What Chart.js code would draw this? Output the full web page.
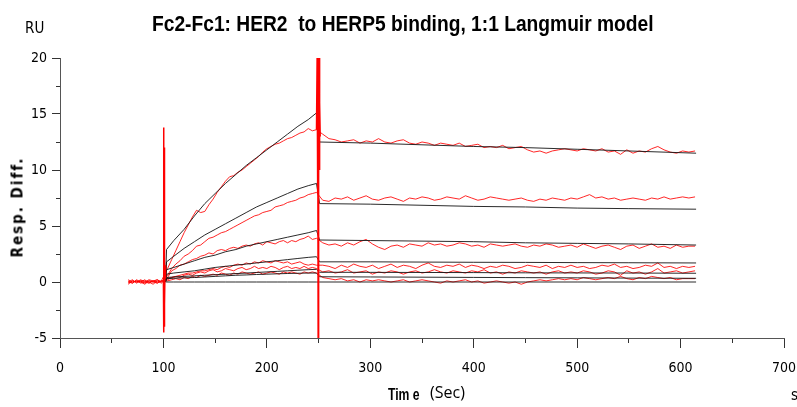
<!DOCTYPE html>
<html>
<head>
<meta charset="utf-8">
<script src="https://cdn.jsdelivr.net/npm/chart.js@4"></script>
<style>
  body { margin: 0; background: #fff; }
  #wrap { position: relative; width: 797px; height: 407px; overflow: hidden; }
  .lbl { position: absolute; white-space: pre; line-height: 1; color: #000; transform-origin: 0 0; }
  .narrow { font-family: "DejaVu Sans Condensed", "Liberation Sans Narrow", sans-serif; }
  .arial { font-family: "Liberation Sans", Arial, sans-serif; }
</style>
</head>
<body>
<div id="wrap">
  <canvas id="chart" width="797" height="407"></canvas>
  <div id="title" class="lbl arial" data-w="502" style="left:152px; top:13px; font-size:22px; font-weight:bold;">Fc2-Fc1: HER2  to HERP5 binding, 1:1 Langmuir model</div>
  <div class="lbl narrow" style="left:25px; top:21px; font-size:15px;">RU</div>
  <div class="lbl narrow" style="left:18px; top:207px; font-size:15px; font-weight:bold; letter-spacing:2px; transform:translate(-50%,-50%) rotate(-90deg); transform-origin:50% 50%;">Resp. Diff.</div>
  <div id="tlab" class="lbl arial" data-w="32" style="left:388px; top:387px; font-size:16px; font-weight:bold;">Tim e</div>
  <div class="lbl" style="left:430px; top:384px; font-size:16px; font-family:'Open Sans',sans-serif;">(Sec)</div>
  <div class="lbl narrow" style="left:791px; top:388px; font-size:15px;">s</div>
</div>
<script>
// sensorgram time points (s) for the measured curves
const tRed = [66,70,74,78,82,86,90,94,98,
  104,108,112,116,120,124,128,132,136,140,
  144,148,152,156,160,164,168,172,176,180,
  184,188,192,196,200,204,208,212,216,220,
  224,228,232,236,240,244,248,
  254,260,266,272,278,284,290,296,302,308,
  314,320,326,332,338,344,350,356,362,368,
  374,380,386,392,398,404,410,416,422,428,
  434,440,446,452,458,464,470,476,482,488,
  494,500,506,512,518,524,530,536,542,548,
  554,560,566,572,578,584,590,596,602,608,
  614];

// measured response (RU), one array per concentration
const red1 = [0.1,-0.1,0.2,0.0,-0.2,0.1,0.0,-0.1,0.1,
  1.2,2.0,2.8,3.6,4.4,5.1,5.8,6.4,6.2,6.3,
  6.9,7.4,8.0,8.5,9.0,9.4,9.5,9.8,10.0,10.3,
  10.6,10.9,11.2,11.6,11.9,12.1,12.3,12.4,12.6,12.8,
  12.9,13.1,13.3,13.4,13.7,13.5,13.6,
  13.2,12.8,12.7,12.5,12.6,12.7,12.4,12.6,12.5,12.8,
  12.5,12.4,12.6,12.7,12.4,12.3,12.5,12.4,12.2,12.4,
  12.3,12.2,12.4,12.1,12.2,12.3,12.0,12.1,12.0,12.2,
  11.9,12.0,12.1,11.8,11.6,11.7,11.5,11.7,11.8,11.9,
  11.8,11.7,11.9,11.8,11.7,11.9,11.6,11.7,11.4,11.8,
  11.5,11.7,11.6,11.9,12.1,11.8,11.6,11.5,11.7,11.6,
  11.7];
const red2 = [-0.1,0.1,0.0,0.2,0.0,-0.1,0.1,0.2,0.0,
  0.6,1.2,1.6,1.9,2.3,2.5,2.8,3.2,3.3,3.6,
  3.9,4.0,4.2,4.4,4.5,4.7,4.9,5.1,5.3,5.5,
  5.7,5.9,6.0,6.2,6.3,6.4,6.7,6.8,6.9,7.1,
  7.2,7.3,7.5,7.6,7.8,7.9,8.0,
  7.3,7.2,7.5,7.4,7.6,7.3,7.5,7.7,7.4,7.3,
  7.5,7.6,7.4,7.2,7.5,7.4,7.6,7.5,7.3,7.4,
  7.6,7.5,7.4,7.7,7.5,7.3,7.4,7.6,7.5,7.4,
  7.3,7.4,7.5,7.3,7.2,7.4,7.3,7.5,7.4,7.3,
  7.5,7.4,7.6,7.8,7.5,7.6,7.4,7.5,7.3,7.4,
  7.5,7.4,7.3,7.5,7.4,7.6,7.4,7.5,7.6,7.5,
  7.6];
const red3 = [0.0,0.2,-0.1,0.1,0.1,0.0,-0.2,0.1,-0.1,
  0.4,1.0,1.2,1.5,1.6,1.8,2.0,2.1,2.3,2.4,
  2.6,2.5,2.8,2.9,2.8,3.0,3.1,3.0,3.2,3.3,
  3.2,3.4,3.5,3.3,3.6,3.5,3.4,3.6,3.7,3.5,
  3.7,3.6,3.8,3.9,4.1,3.8,3.9,
  3.5,3.3,3.4,3.2,3.5,3.3,3.6,3.8,3.4,3.1,
  2.9,3.2,3.3,3.1,3.4,3.3,3.2,3.5,3.3,3.4,
  3.2,3.3,3.5,3.4,3.2,3.3,3.1,3.4,3.3,3.2,
  3.3,3.4,3.2,3.1,3.3,3.2,3.4,3.3,3.1,3.2,
  3.3,3.1,3.4,3.2,3.0,3.2,3.3,3.1,2.9,3.2,
  3.3,3.0,3.2,3.4,3.1,3.2,3.0,3.3,3.1,3.2,
  3.2];
const red4 = [0.2,0.0,0.1,-0.1,0.0,0.2,0.1,-0.1,0.1,
  0.2,0.4,0.5,0.6,0.7,0.8,0.8,0.9,1.0,1.0,
  1.1,1.2,1.1,1.3,1.4,1.3,1.5,1.6,1.5,1.7,
  1.6,1.8,1.7,1.9,1.8,1.7,1.9,1.8,1.7,1.8,
  1.6,1.7,1.8,1.6,1.5,1.6,1.5,
  1.5,1.4,1.2,1.5,1.3,1.6,1.4,1.3,1.5,1.2,
  1.4,1.6,1.3,1.5,1.4,1.2,1.5,1.7,1.4,1.3,
  1.5,1.4,1.6,1.3,1.5,1.4,1.2,1.4,1.3,1.5,
  1.4,1.2,1.3,1.5,1.4,1.3,1.5,1.2,1.4,1.3,
  1.5,1.3,1.4,1.2,1.3,1.5,1.4,1.6,1.3,1.4,
  1.2,1.3,1.5,1.4,1.7,1.3,1.4,1.2,1.4,1.3,
  1.4];
const red5 = [-0.2,0.1,0.0,0.1,-0.1,0.1,0.0,0.2,0.0,
  0.3,0.4,0.5,0.4,0.6,0.7,0.6,0.8,0.9,0.8,
  1.0,1.1,0.9,1.0,1.2,1.1,1.0,1.2,1.3,1.1,
  1.2,1.4,1.2,1.3,1.2,1.4,1.3,1.1,1.3,1.4,
  1.2,1.3,1.2,1.4,1.2,1.3,1.2,
  0.9,1.0,0.8,0.9,1.1,0.8,0.9,1.0,0.7,0.9,
  0.8,1.0,0.9,0.7,0.9,1.0,0.8,0.9,1.1,0.9,
  0.8,1.0,0.9,0.8,1.0,0.9,1.1,0.8,0.9,0.7,
  0.9,0.8,1.0,0.9,0.8,0.9,0.7,0.9,1.0,0.8,
  0.9,0.8,1.0,0.9,0.7,0.8,1.0,0.9,0.6,1.0,
  0.8,0.9,0.7,0.9,1.2,0.8,0.9,1.0,0.8,0.9,
  1.0];
const red6 = [0.0,-0.1,0.1,0.0,0.2,-0.1,0.1,0.0,0.1,
  0.1,0.2,0.3,0.2,0.4,0.3,0.5,0.4,0.6,0.5,
  0.6,0.7,0.6,0.8,0.7,0.6,0.8,0.7,0.9,0.8,
  0.7,0.8,0.9,0.7,0.8,0.9,0.8,0.7,0.9,0.8,
  0.9,0.8,0.7,0.9,0.8,0.9,0.8,
  0.4,0.3,0.2,0.3,0.1,0.2,0.0,0.2,0.1,0.2,
  0.1,0.0,0.1,0.2,0.0,0.1,0.2,0.1,0.0,-0.1,
  0.1,0.0,0.1,0.2,0.0,0.1,-0.1,0.0,0.1,0.0,
  -0.1,0.0,-0.2,0.0,0.1,0.2,0.1,0.2,0.3,0.2,
  0.3,0.2,0.4,0.3,0.2,0.3,0.4,0.3,0.5,0.3,
  0.2,0.4,0.3,0.5,0.4,0.3,0.4,0.2,0.3,0.3,
  0.3];

// injection artefacts
const spike1T = [100, 100.2, 100.4, 100.6, 100.8, 101.0, 101.3, 101.6, 102];
const spike1 = [0, 13.8, -4.5, 12.0, -4.0, 6.0, -2.0, 1.5, 0.3];
const spike2T = [248, 248.6, 249.0, 249.3, 249.6, 249.9, 250.2, 250.5, 250.8, 251.2, 251.6];
const spike2 = [13.6, 20, 8, 20, -5, 20, 9, 20, 10, 16, 13.0];

// 1:1 Langmuir fit curves
const tFit = [102,103,110,120,130,140,150,160,170,180,190,200,210,220,230,240,248,
  251,300,350,400,450,500,550,615];
const fit1 = [0,2.9,3.7,4.7,5.9,7.0,7.9,8.8,9.6,10.4,11.1,11.8,12.5,13.2,13.9,14.5,15.1,
  12.5,12.4,12.25,12.1,12.0,11.85,11.7,11.5];
const fit2 = [0,1.8,2.3,3.0,3.6,4.2,4.7,5.2,5.7,6.2,6.7,7.1,7.5,7.9,8.3,8.6,8.8,
  7.0,6.95,6.85,6.75,6.7,6.6,6.55,6.5];
const fit3 = [0,1.1,1.3,1.6,1.9,2.2,2.4,2.7,2.9,3.2,3.4,3.6,3.8,4.0,4.2,4.4,4.6,
  3.75,3.7,3.65,3.6,3.5,3.45,3.4,3.3];
const fit4 = [0,0.7,0.8,0.9,1.0,1.15,1.3,1.4,1.5,1.6,1.7,1.8,1.9,2.0,2.1,2.2,2.26,
  1.8,1.8,1.78,1.76,1.75,1.73,1.72,1.7];
const fit5 = [0,0.4,0.45,0.5,0.55,0.6,0.65,0.7,0.75,0.8,0.85,0.9,0.95,1.0,1.05,1.1,1.13,
  0.87,0.86,0.85,0.84,0.82,0.81,0.8,0.78];
const fit6 = [0,0.3,0.33,0.37,0.4,0.45,0.5,0.55,0.6,0.63,0.67,0.7,0.73,0.76,0.78,0.8,0.8,
  0.47,0.45,0.43,0.41,0.39,0.37,0.35,0.33];
const fit7 = [0,0,0,0,0,0,0,0,0,0,0,0,0,0,0,0,0,
  0,0,0,0,0,0,0,0];

const xTicks = [0, 100, 200, 300, 400, 500, 600, 700];
const yTicks = [-5, 0, 5, 10, 15, 20];

// squeeze the bold labels horizontally to the width they have in the picture
document.querySelectorAll('[data-w]').forEach(el => {
  el.style.transform = 'scaleX(' + (el.dataset.w / el.offsetWidth) + ')';
});

function pts(xs, ys) {
  return xs.map((x, i) => ({ x: x, y: ys[i] }));
}

const redSeries = [red1, red2, red3, red4, red5, red6];
const fitSeries = [fit1, fit2, fit3, fit4, fit5, fit6, fit7];

const datasets = [];
datasets.push({ data: pts(spike1T, spike1), borderColor: '#ff0000', borderWidth: 1.5, order: 0 });
datasets.push({ data: pts(spike2T, spike2), borderColor: '#ff0000', borderWidth: 1.5, order: 0 });
fitSeries.forEach(f => {
  datasets.push({ data: pts(tFit, f), borderColor: 'rgba(20,20,20,0.9)', borderWidth: 1, order: 1 });
});
redSeries.forEach(r => {
  datasets.push({ data: pts(tRed, r), borderColor: 'rgba(255,0,0,0.85)', borderWidth: 1, order: 2 });
});

const tickFont = { family: '"DejaVu Sans Condensed", "Liberation Sans Narrow", sans-serif', size: 14 };

new Chart(document.getElementById('chart'), {
  type: 'scatter',
  data: { datasets: datasets },
  options: {
    responsive: false,
    animation: false,
    showLine: true,
    elements: { point: { radius: 0 }, line: { tension: 0 } },
    layout: { padding: { top: 58, right: 13, left: 0, bottom: 0 } },
    plugins: { legend: { display: false }, tooltip: { enabled: false } },
    scales: {
      x: {
        type: 'linear', min: 0, max: 700, weight: 0,
        afterBuildTicks: s => { s.ticks = xTicks.map(v => ({ value: v })); },
        ticks: { color: '#000', font: tickFont, padding: 12, maxRotation: 0 },
        grid: { drawOnChartArea: false, tickLength: 10, color: '#333' },
        border: { color: '#555' },
        afterFit: s => { s.height = 69; s.paddingLeft = 0; s.paddingRight = 0; }
      },
      xMinor: {
        type: 'linear', position: 'bottom', min: 0, max: 700, weight: -1,
        ticks: { display: false, stepSize: 50 },
        grid: { drawOnChartArea: false, tickLength: 5, color: '#333' },
        border: { display: false },
        afterFit: s => { s.height = 0; s.paddingLeft = 0; s.paddingRight = 0; }
      },
      y: {
        type: 'linear', min: -5, max: 20, weight: 0,
        afterBuildTicks: s => { s.ticks = yTicks.map(v => ({ value: v })); },
        ticks: { color: '#000', font: tickFont, padding: 5 },
        grid: { drawOnChartArea: false, tickLength: 8, color: '#333' },
        border: { color: '#555' },
        afterFit: s => { s.width = 60; s.paddingTop = 0; s.paddingBottom = 0; }
      },
      yMinor: {
        type: 'linear', position: 'left', min: -5, max: 20, weight: -1,
        ticks: { display: false, stepSize: 2.5 },
        grid: { drawOnChartArea: false, tickLength: 4, color: '#333' },
        border: { display: false },
        afterFit: s => { s.width = 0; s.paddingTop = 0; s.paddingBottom = 0; }
      }
    }
  }
});
</script>
</body>
</html>
